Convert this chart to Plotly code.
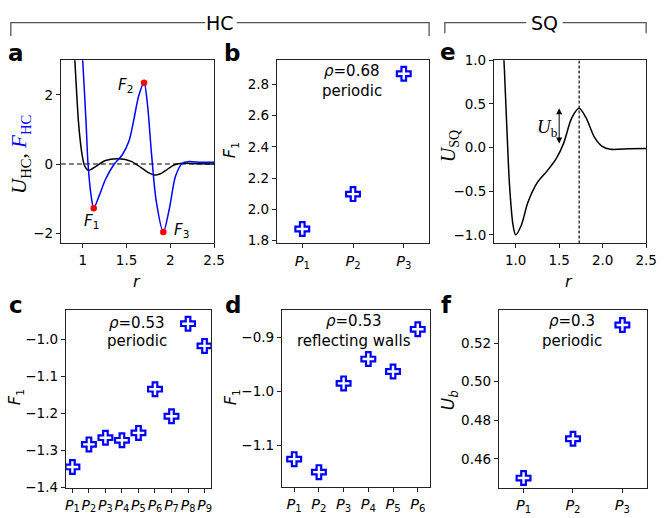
import plotly.graph_objects as go

W, H = 664, 518

# ---- panel a: HC pair potential and its effective force profile ----
r_u_hc = [0.88, 0.91, 0.95, 0.97, 0.99, 1.02, 1.06, 1.10, 1.15, 1.26, 1.41, 1.56, 1.67, 1.75, 1.82, 1.88, 1.94, 2.05, 2.16, 2.3, 2.5]
u_hc = [4.5, 2.97, 1.24, 0.7, 0.3, -0.05, -0.18, -0.15, -0.07, 0.10, 0.15, 0.07, -0.11, -0.25, -0.32, -0.29, -0.20, -0.02, 0.02, 0.01, 0.0]

r_f_hc = [0.99, 1.0, 1.037, 1.06, 1.10, 1.125, 1.19, 1.26, 1.36, 1.45, 1.53, 1.58, 1.64, 1.70, 1.74, 1.785, 1.84, 1.92, 1.99, 2.06, 2.14, 2.21, 2.35, 2.5]
f_hc = [3.6, 2.97, 1.24, 0.0, -1.0, -1.28, -0.9, -0.44, 0.0, 0.26, 0.68, 1.24, 1.98, 2.35, 1.70, 0.3, -1.09, -1.97, -1.28, -0.35, 0.03, 0.07, 0.05, 0.05]

f_pts_r = [1.125, 1.70, 1.92]
f_pts_v = [-1.28, 2.35, -1.97]
f_pts_lbl = ["<i>F</i><sub>1</sub>", "<i>F</i><sub>2</sub>", "<i>F</i><sub>3</sub>"]

# ---- panel b ----
b_vals = [1.873, 2.097, 2.869]
# ---- panel c ----
c_vals = [-1.344, -1.283, -1.265, -1.272, -1.252, -1.134, -1.207, -0.957, -1.017]
# ---- panel d ----
d_vals = [-1.125, -1.149, -0.985, -0.940, -0.963, -0.885]
# ---- panel e: SQ pair potential ----
r_sq = [0.84, 0.87, 0.895, 0.93, 0.97, 1.0, 1.065, 1.14, 1.25, 1.36, 1.47, 1.55, 1.645, 1.73, 1.81, 1.905, 2.0, 2.09, 2.3, 2.5]
u_sq = [1.5, 0.9, 0.31, -0.44, -0.89, -1.0, -0.89, -0.63, -0.40, -0.27, -0.12, 0.045, 0.34, 0.45, 0.34, 0.12, 0.01, -0.02, -0.015, -0.01]
r_barrier = 1.73
u_barrier_top = 0.45
u_barrier_base = 0.03
r_barrier_arrow = 1.5
# ---- panel f ----
f_vals = [0.450, 0.4704, 0.5294]


def plabels(n):
    return [f"<i>P</i><sub>{i}</sub>" for i in range(1, n + 1)]


def px(x):
    return x / W


def py(y):
    return 1 - y / H


TICKFONT = dict(family="DejaVu Sans", size=13.5, color="black")
PFONT = dict(family="DejaVu Sans", size=14.5, color="black")
SANS = "DejaVu Sans"
SERIF = "Liberation Serif"

fig = go.Figure()

# panel a
fig.add_trace(go.Scatter(x=[0.75, 2.5], y=[0, 0], mode="lines",
                         line=dict(color="black", width=1.2, dash="5px,3px"),
                         xaxis="x", yaxis="y", showlegend=False))
fig.add_trace(go.Scatter(x=r_u_hc, y=u_hc, mode="lines", line=dict(color="black", width=1.5, shape="spline", smoothing=0.8),
                         xaxis="x", yaxis="y", showlegend=False))
fig.add_trace(go.Scatter(x=r_f_hc, y=f_hc, mode="lines", line=dict(color="blue", width=1.5, shape="spline", smoothing=0.8),
                         xaxis="x", yaxis="y", showlegend=False))
fig.add_trace(go.Scatter(x=f_pts_r, y=f_pts_v, mode="markers", marker=dict(color="red", size=6.5),
                         xaxis="x", yaxis="y", showlegend=False))

mk = dict(symbol="cross-open", size=11.5, color="blue", line=dict(width=2.2, color="blue"))

fig.add_trace(go.Scatter(x=list(range(len(b_vals))), y=b_vals, mode="markers", marker=mk,
                         xaxis="x2", yaxis="y2", showlegend=False))

# panel e
fig.add_trace(go.Scatter(x=r_sq, y=u_sq, mode="lines", line=dict(color="black", width=1.5, shape="spline", smoothing=0.8),
                         xaxis="x3", yaxis="y3", showlegend=False))
fig.add_trace(go.Scatter(x=[r_barrier, r_barrier], y=[-1.1, 1.0], mode="lines",
                         line=dict(color="black", width=1.2, dash="3px,2px"),
                         xaxis="x3", yaxis="y3", showlegend=False))

fig.add_trace(go.Scatter(x=list(range(len(c_vals))), y=c_vals, mode="markers", marker=mk,
                         xaxis="x4", yaxis="y4", showlegend=False))
fig.add_trace(go.Scatter(x=list(range(len(d_vals))), y=d_vals, mode="markers", marker=mk,
                         xaxis="x5", yaxis="y5", showlegend=False))
fig.add_trace(go.Scatter(x=list(range(len(f_vals))), y=f_vals, mode="markers", marker=mk,
                         xaxis="x6", yaxis="y6", showlegend=False))


def axis(domain, rng, **kw):
    d = dict(domain=domain, range=rng, showline=True, mirror=True, linecolor="#222", linewidth=1,
             ticks="outside", ticklen=4, tickcolor="#222", tickwidth=1, showgrid=False, zeroline=False,
             tickfont=TICKFONT, tickangle=0)
    d.update(kw)
    return d


top = [py(243), py(54)]
bot = [py(495), py(312)]

fig.update_layout(
    width=W, height=H, margin=dict(l=0, r=0, t=0, b=0),
    paper_bgcolor="white", plot_bgcolor="white",
    xaxis=axis([px(61), px(217)], [0.75, 2.5], anchor="y", tickvals=[1, 1.5, 2, 2.5], ticktext=["1", "1.5", "2", "2.5"]),
    yaxis=axis(top, [-2.3, 3.0], anchor="x", tickvals=[-2, 0, 2]),
    xaxis2=axis([px(281), px(436)], [-0.5, 2.5], anchor="y2", tickvals=list(range(3)), ticktext=plabels(3), tickfont=PFONT),
    yaxis2=axis(top, [1.78, 2.955], anchor="x2", tickvals=[1.8, 2.0, 2.2, 2.4, 2.6, 2.8], tickformat=".1f"),
    xaxis3=axis([px(502), px(657)], [0.75, 2.5], anchor="y3", tickvals=[1.0, 1.5, 2.0, 2.5], tickformat=".1f"),
    yaxis3=axis(top, [-1.1, 1.0], anchor="x3", tickvals=[-1.0, -0.5, 0.0, 0.5, 1.0], tickformat=".1f"),
    xaxis4=axis([px(66), px(214)], [-0.4, 8.4], anchor="y4", tickvals=list(range(9)), ticktext=plabels(9),
                tickfont=dict(family="DejaVu Sans", size=14, color="black")),
    yaxis4=axis(bot, [-1.4, -0.921], anchor="x4", tickvals=[-1.4, -1.3, -1.2, -1.1, -1.0], tickformat=".1f"),
    xaxis5=axis([px(286), px(437)], [-0.5, 5.5], anchor="y5", tickvals=list(range(6)), ticktext=plabels(6), tickfont=PFONT),
    yaxis5=axis([py(494), py(312)], [-1.176, -0.85], anchor="x5", tickvals=[-1.1, -1.0, -0.9], tickformat=".1f"),
    xaxis6=axis([px(507), px(658)], [-0.5, 2.5], anchor="y6", tickvals=list(range(3)), ticktext=plabels(3), tickfont=PFONT),
    yaxis6=axis(bot, [0.445, 0.537], anchor="x6", tickvals=[0.46, 0.48, 0.50, 0.52], tickformat=".2f"),
)

ann = []


def note(x, y, text, size=15, family=SANS, angle=0, color="black", **kw):
    ann.append(dict(x=px(x), y=py(y), xref="paper", yref="paper", text=text, showarrow=False,
                    font=dict(size=size, family=family, color=color), textangle=angle,
                    xanchor="center", yanchor="middle", **kw))


# panel letters
for (lx, ly, t) in [(15, 46, "a"), (235, 46, "b"), (455, 45, "e"), (15, 306, "c"), (236, 306, "d"), (454, 306, "f")]:
    note(lx, ly, f"<b>{t}</b>", size=23)

# axis titles
note(20, 151, '<i>U</i><sub>HC</sub>, <span style="color:blue"><i>F</i><sub>HC</sub></span>', size=21, family=SERIF, angle=-90)
note(138, 282, "<i>r</i>", size=16)
note(234, 147, "<i>F</i><sub>1</sub>", size=16, angle=-90)
note(457, 143, "<i>U</i><sub>SQ</sub>", size=20, family=SERIF, angle=-90)
note(578, 282, "<i>r</i>", size=16)
note(15, 402, "<i>F</i><sub>1</sub>", size=16, angle=-90)
note(235, 402, "<i>F</i><sub>1</sub>", size=16, angle=-90)
note(457, 405, "<i>U<sub>b</sub></i>", size=17, angle=-90)

# force point labels
note(91.7, 220.7, f_pts_lbl[0], size=15)
note(126.7, 80, f_pts_lbl[1], size=15)
note(184.3, 229.3, f_pts_lbl[2], size=15)

# in-panel state descriptions
note(357.7, 65, "<i>ρ</i>=0.68", size=15)
note(357.7, 86, "periodic", size=15)
note(138.3, 325, "<i>ρ</i>=0.53", size=15)
note(138.3, 343.5, "periodic", size=15)
note(360, 323.3, "<i>ρ</i>=0.53", size=15)
note(360, 344, "reflecting walls", size=15)
note(582, 323.3, "<i>ρ</i>=0.3", size=15)
note(582, 344, "periodic", size=15)

# barrier height arrow and label
ann.append(dict(x=r_barrier_arrow, y=u_barrier_top, ax=r_barrier_arrow, ay=u_barrier_base,
                xref="x3", yref="y3", axref="x3", ayref="y3", text="", showarrow=True,
                arrowhead=2, startarrowhead=2, arrowside="end+start", arrowsize=1.2, arrowwidth=1, arrowcolor="black"))
note(556.5, 124, "<i>U</i><sub>b</sub>", size=19, family=SERIF)

# group headers
note(223.5, 15, "HC", size=19)
note(553.5, 15, "SQ", size=19)
fig.update_layout(annotations=ann)

shapes = []
bracket = dict(color="#555", width=1.3)
for path in [
    "M 10 29 L 10 15 L 208 15",
    "M 240 15 L 436 15 L 436 29",
    "M 452 26 L 452 15 L 535 15",
    "M 572 15 L 657 15 L 657 26",
]:
    pts = path.replace("M", "").split("L")
    coords = [tuple(float(v) for v in p.split()) for p in pts]
    p = "M " + " L ".join(f"{px(x)} {py(y)}" for x, y in coords)
    shapes.append(dict(type="path", xref="paper", yref="paper", path=p, line=bracket))
fig.update_layout(shapes=shapes)

fig.write_html("out.html")
